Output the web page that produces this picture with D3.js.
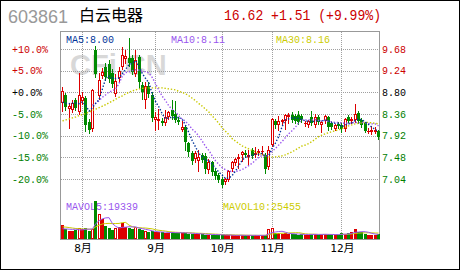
<!DOCTYPE html>
<meta charset="utf-8">
<style>
body { margin: 0; background: #fff; }
svg { display: block; }
.grid line { stroke: #a0a0a0; stroke-dasharray: 1,1; shape-rendering: crispEdges; }
.ma { fill: none; stroke-width: 1.4; stroke-dasharray: 1.4,1.8; }
.mavol { fill: none; stroke-width: 1; }
.mono { font-family: "Liberation Mono", "DejaVu Sans Mono", monospace; }
</style>
<svg width="460" height="270"></svg>
<script src="https://d3js.org/d3.v7.min.js"></script>
<script>

// header
var stockCode = "603861",
    stockName = "白云电器",
    quoteText = "16.62 +1.51 (+9.99%)";

// axis ticks
var basePrice  = 8.80;
var priceTicks = [9.68, 9.24, 8.80, 8.36, 7.92, 7.48, 7.04];
var pctLabels  = ["+10.0%", "+5.0%", "+0.0%", "-5.0%", "-10.0%", "-15.0%", "-20.0%"];
var monthLabels = ["8月", "9月", "10月", "11月", "12月"];
var monthStart  = [6, 28, 48, 63, 84];   // index of first trading day of each month

var maLabels    = ["MA5:8.00", "MA10:8.11", "MA30:8.16"];
var mavolLabels = ["MAVOL5:19339", "MAVOL10:25455"];

// daily k-line
var opens = [8.58,8.74,8.47,8.45,8.64,8.40,8.62,8.68,8.20,8.06, 9.66,8.72,9.14,9.32,9.38,9.20,8.76,9.10,9.32,9.48,
  9.50,9.50,9.18,9.52,8.94,8.64,8.92,8.74,8.24,8.22, 8.22,8.18,8.30,8.44,8.36,8.24,8.04,8.10,7.78,7.56,
  7.44,7.40,7.52,7.50,7.22,7.38,7.20,7.12,7.04,6.98, 7.02,7.24,7.36,7.44,7.52,7.56,7.48,7.62,7.52,7.56,
  7.58,7.52,7.28,7.74,8.22,8.14,8.20,8.22,8.30,8.34, 8.32,8.34,8.32,8.16,8.14,8.30,8.14,8.30,8.14,8.22,
  8.30,8.18,8.06,8.16,8.14,8.06,8.30,8.22,8.24,8.38, 8.24,8.18,8.00,8.00,8.00,8.02];
var highs = [8.90,8.78,8.56,8.64,8.68,9.19,8.80,8.72,8.26,8.86, 9.74,9.19,9.30,9.40,9.46,9.28,9.18,9.32,9.72,9.66,
  9.90,9.56,9.66,9.56,9.00,9.00,9.02,8.80,8.40,8.46, 8.28,8.44,8.42,8.64,8.62,8.30,8.22,8.14,7.80,7.60,
  7.60,7.62,7.56,7.56,7.44,7.40,7.24,7.16,7.08,7.06, 7.22,7.40,7.46,7.54,7.60,7.62,7.62,7.66,7.68,7.64,
  7.72,7.56,7.70,8.28,8.26,8.32,8.26,8.36,8.38,8.40, 8.36,8.42,8.36,8.22,8.24,8.42,8.36,8.34,8.22,8.34,
  8.32,8.22,8.16,8.20,8.18,8.28,8.34,8.30,8.56,8.42, 8.28,8.20,8.08,8.12,8.10,8.04];
var lows = [8.42,8.44,8.08,8.40,8.44,8.36,8.56,8.02,7.98,8.02, 9.12,8.66,9.10,9.06,9.02,8.90,8.72,9.04,9.28,9.40,
  9.34,9.18,9.14,8.88,8.66,8.48,8.70,8.22,8.04,8.06, 8.14,8.14,8.26,8.26,8.20,8.16,8.02,7.62,7.50,7.34,
  7.38,7.20,7.38,7.16,7.16,7.12,7.04,6.98,6.88,6.94, 7.00,7.20,7.32,7.26,7.40,7.48,7.32,7.46,7.48,7.52,
  7.54,7.16,7.24,7.70,8.08,8.04,8.14,8.06,8.18,8.20, 8.18,8.16,8.20,8.12,8.10,8.14,8.10,8.16,8.00,8.18,
  8.04,8.06,8.04,8.08,8.00,8.02,8.20,8.18,8.20,8.18, 8.10,8.00,7.98,7.96,7.98,7.86];
var closes = [8.82,8.50,8.53,8.58,8.49,8.75,8.70,8.14,8.04,8.84, 9.18,9.06,9.22,9.12,9.08,8.96,9.04,9.24,9.56,9.54,
  9.40,9.22,9.46,9.02,8.80,8.92,8.76,8.28,8.30,8.26, 8.18,8.30,8.40,8.32,8.24,8.20,8.10,7.80,7.58,7.40,
  7.56,7.48,7.42,7.24,7.38,7.18,7.10,7.02,6.92,7.04, 7.20,7.38,7.44,7.48,7.58,7.52,7.52,7.50,7.56,7.60,
  7.60,7.24,7.62,8.26,8.14,8.22,8.24,8.34,8.34,8.24, 8.22,8.20,8.24,8.18,8.22,8.18,8.30,8.20,8.20,8.32,
  8.10,8.10,8.14,8.12,8.06,8.26,8.22,8.26,8.36,8.22, 8.14,8.02,8.02,8.04,8.04,7.90];

var ma5 = [8.60,8.58,8.57,8.58,8.58,8.57,8.61,8.53,8.42,8.49, 8.58,8.65,8.87,9.08,9.13,9.09,9.08,9.09,9.18,9.27,
  9.36,9.39,9.44,9.33,9.18,9.08,8.99,8.76,8.61,8.50, 8.36,8.26,8.29,8.29,8.29,8.29,8.25,8.13,7.98,7.82,
  7.69,7.56,7.49,7.42,7.42,7.34,7.26,7.18,7.12,7.05, 7.06,7.11,7.20,7.31,7.42,7.48,7.51,7.52,7.54,7.54,
  7.56,7.50,7.52,7.66,7.77,7.90,8.10,8.24,8.26,8.28, 8.28,8.27,8.25,8.22,8.21,8.20,8.22,8.22,8.22,8.24,
  8.22,8.18,8.17,8.16,8.10,8.14,8.16,8.18,8.23,8.26, 8.24,8.20,8.15,8.09,8.05,8.00];
var ma10 = [null,null,null,null,null,null,null,null,null,8.54, 8.58,8.63,8.70,8.75,8.81,8.83,8.87,8.98,9.13,9.20,
  9.22,9.24,9.26,9.25,9.22,9.22,9.19,9.10,8.97,8.84, 8.72,8.63,8.52,8.45,8.40,8.32,8.26,8.21,8.14,8.05,
  7.99,7.91,7.81,7.70,7.62,7.51,7.41,7.34,7.27,7.23, 7.20,7.19,7.19,7.21,7.23,7.27,7.31,7.36,7.42,7.48,
  7.52,7.50,7.52,7.60,7.66,7.73,7.80,7.88,7.96,8.02, 8.09,8.18,8.24,8.24,8.24,8.24,8.25,8.23,8.22,8.23,
  8.21,8.20,8.19,8.19,8.17,8.18,8.17,8.18,8.19,8.18, 8.19,8.18,8.17,8.16,8.16,8.12];
var ma30 = [8.22,8.24,8.26,8.28,8.30,8.33,8.35,8.37,8.40,8.43, 8.46,8.49,8.52,8.55,8.59,8.62,8.66,8.70,8.73,8.77,
  8.80,8.83,8.85,8.87,8.88,8.89,8.89,8.89,8.89,8.89, 8.89,8.88,8.87,8.86,8.85,8.82,8.80,8.77,8.73,8.68,
  8.63,8.57,8.52,8.46,8.40,8.32,8.25,8.17,8.08,8.01, 7.94,7.86,7.81,7.76,7.71,7.68,7.65,7.62,7.59,7.56,
  7.53,7.51,7.49,7.49,7.49,7.50,7.51,7.53,7.56,7.59, 7.63,7.67,7.71,7.73,7.76,7.80,7.85,7.90,7.93,7.96,
  7.98,8.00,8.02,8.04,8.06,8.09,8.12,8.14,8.16,8.17, 8.18,8.19,8.19,8.18,8.17,8.16];

var volumes = [61000,43000,33000,33000,40000,47000,43000,47000,33000,43000,
  163000,107000,86000,54000,47000,37000,47000,50000,69000,50000,
  47000,43000,51000,43000,37000,33000,29000,33000,29000,29000,
  29000,26000,26000,29000,26000,26000,26000,26000,23000,23000,
  21000,21000,21000,18500,18500,18500,18500,18500,16000,15000,
  17000,16000,15000,16000,17000,15000,16000,15000,16000,15000,
  16000,17000,44000,46000,27000,26000,23000,24000,21000,20000,
  21000,19000,20000,18000,19000,22000,20000,18000,19000,21000,
  20000,18000,17000,19000,26000,23000,24000,30000,40850,32000,
  31000,22000,18000,17000,18000,21700];
var mavol5 = [44000,43000,42000,41000,42000,39200,39200,42000,42000,42600,
  65800,78600,86400,90600,91400,66200,54200,47000,50000,50600,
  52600,51800,52000,46800,44200,41400,38600,35000,32200,30600,
  29800,29200,27800,27800,27200,26600,26600,26600,25400,24800,
  23800,22800,21800,20900,20000,19500,19000,18500,18000,17300,
  17000,16500,15800,15800,16200,15800,15800,15800,15800,15400,
  15600,15800,21600,27600,30000,32000,33200,29200,24200,22800,
  21800,21000,20200,19600,19400,19600,19800,19400,19600,20000,
  19600,19200,19000,19000,20000,20600,21800,24400,28770,29970,
  31570,31170,28770,24000,21200,19339];
var mavol10 = [52000,51000,49000,47000,45000,44000,43000,43000,42000,42300,
  52500,58900,64200,66300,67000,66000,66400,66700,70300,71000,
  59400,53000,49500,48400,47400,47000,45200,43500,39500,37400,
  35600,33900,31400,30000,28900,28200,27900,27200,26600,26000,
  25200,24700,24200,23150,22400,21650,20900,20150,19450,18650,
  18250,17750,17150,16900,16750,16400,16150,15800,15800,15800,
  15700,15800,18700,21700,22700,23800,24500,25400,25900,26400,
  26900,27100,24700,21900,21100,20700,20400,19800,19600,19700,
  19600,19500,19200,19300,20000,20100,20500,21700,23890,24990,
  26090,26490,26590,26390,25590,25455];

var RED = "#dd0000", GREEN = "#008a00", TXT_RED = "#cc0000", TXT_GREEN = "#008000";

var svg = d3.select("svg");

var x = d3.scaleLinear().domain([0, closes.length - 1]).range([62.5, 378.5]);
var y = d3.scaleLinear().domain([7.04, 9.68]).range([179, 49]);
var yv = d3.scaleLinear().domain([0, 180000]).range([239, 197]);

function col(i) { return Math.floor(x(i)); }
function tickColor(p) { return p > basePrice ? TXT_RED : (p < basePrice ? TXT_GREEN : "#000"); }

// outer border
svg.append("rect")
    .attr("x", 0.5).attr("y", 0.5).attr("width", 459).attr("height", 269)
    .attr("fill", "#fff").attr("stroke", "#000");

// header
svg.append("text")
    .attr("x", 8).attr("y", 23)
    .attr("font-family", "Liberation Sans, Arial, sans-serif")
    .attr("font-size", 18).attr("fill", "#999")
    .text(stockCode);
svg.append("text")
    .attr("x", 79).attr("y", 21)
    .attr("font-family", "Noto Sans CJK SC, sans-serif")
    .attr("font-size", 16).attr("fill", "#000")
    .text(stockName);
svg.append("text")
    .attr("class", "mono")
    .attr("x", 224).attr("y", 20)
    .attr("font-size", 15).attr("fill", TXT_RED)
    .attr("textLength", 157).attr("lengthAdjust", "spacingAndGlyphs")
    .text(quoteText);

// watermark
svg.append("text")
    .attr("x", 70).attr("y", 75)
    .attr("font-family", "Liberation Sans, Arial, sans-serif")
    .attr("font-weight", "bold").attr("font-size", 29)
    .attr("fill", "#d8d8d8")
    .text("CFi.CN");

// grid
var grid = svg.append("g").attr("class", "grid");
grid.selectAll("line.h")
  .data(priceTicks)
  .enter().append("line")
    .attr("class", "h")
    .attr("x1", 61).attr("x2", 380)
    .attr("y1", function(d) { return Math.round(y(d)) + 0.5; })
    .attr("y2", function(d) { return Math.round(y(d)) + 0.5; });
grid.selectAll("line.v")
  .data(monthStart)
  .enter().append("line")
    .attr("class", "v")
    .attr("x1", function(d) { return col(d) + 0.5; })
    .attr("x2", function(d) { return col(d) + 0.5; })
    .attr("y1", 32).attr("y2", 239);

// frame
svg.append("rect")
    .attr("x", 60.5).attr("y", 31.5).attr("width", 319).attr("height", 208)
    .attr("fill", "none").attr("stroke", "#999");

// axes
var axL = svg.append("g")
    .attr("transform", "translate(12,0)")
    .call(d3.axisRight(y).tickValues(priceTicks).tickSize(0).tickPadding(0)
      .tickFormat(function(d, i) { return pctLabels[i]; }));
var axR = svg.append("g")
    .attr("transform", "translate(382,0)")
    .call(d3.axisRight(y).tickValues(priceTicks).tickSize(0).tickPadding(0)
      .tickFormat(d3.format(".2f")));
[axL, axR].forEach(function(g) {
  g.select(".domain").remove();
  g.attr("font-family", "Liberation Mono, DejaVu Sans Mono, monospace").attr("font-size", 10);
  g.selectAll("text").attr("fill", function(d) { return tickColor(d); });
});

var axB = svg.append("g")
    .attr("transform", "translate(0,243)")
    .call(d3.axisBottom(x).tickValues(monthStart).tickSize(0).tickPadding(1)
      .tickFormat(function(d, i) { return monthLabels[i]; }));
axB.select(".domain").remove();
axB.attr("font-family", "DejaVu Sans Mono, Noto Sans CJK SC, monospace").attr("font-size", 11);
axB.selectAll("text").attr("fill", "#000");

// indicator labels
var maColors = ["#003399", "#9955ee", "#cccc00"];
svg.selectAll("text.malabel")
  .data(maLabels)
  .enter().append("text")
    .attr("class", "malabel mono")
    .attr("x", function(d, i) { return [66, 171, 276][i]; })
    .attr("y", 42.5)
    .attr("font-size", 10)
    .attr("fill", function(d, i) { return maColors[i]; })
    .text(function(d) { return d; });
svg.selectAll("text.mavollabel")
  .data(mavolLabels)
  .enter().append("text")
    .attr("class", "mavollabel mono")
    .attr("x", function(d, i) { return [66, 223][i]; })
    .attr("y", 209.5)
    .attr("font-size", 10)
    .attr("fill", function(d, i) { return maColors[i + 1]; })
    .text(function(d) { return d; });

// candles
var idx = d3.range(closes.length);
var candles = svg.append("g").attr("shape-rendering", "crispEdges");
idx.forEach(function(i) {
  var o = opens[i], c = closes[i], up = c >= o;
  var color = up ? RED : GREEN;
  var cx = col(i);
  var top = Math.round(y(Math.max(o, c))), bot = Math.round(y(Math.min(o, c)));
  candles.append("line")
      .attr("x1", cx + 0.5).attr("x2", cx + 0.5)
      .attr("y1", Math.round(y(highs[i]))).attr("y2", Math.round(y(lows[i])) + 1)
      .attr("stroke", color);
  if (up && bot - top >= 3) {
    candles.append("rect")
        .attr("x", cx - 0.5).attr("y", top + 0.5)
        .attr("width", 2).attr("height", bot - top - 1)
        .attr("fill", "#fff").attr("stroke", color);
  } else {
    candles.append("rect")
        .attr("x", cx - 1).attr("y", top)
        .attr("width", 3).attr("height", Math.max(1, bot - top))
        .attr("fill", color);
  }
});

// volume bars
var vol = svg.append("g").attr("shape-rendering", "crispEdges");
idx.forEach(function(i) {
  var o = opens[i], c = closes[i], up = c >= o;
  var color = up ? RED : GREEN;
  var cx = col(i), top = Math.round(yv(volumes[i]));
  if (up && (c - o) / o > 0.03 && 239 - top >= 3) {
    vol.append("rect")
        .attr("x", cx - 0.5).attr("y", top + 0.5)
        .attr("width", 2).attr("height", 239 - top - 1)
        .attr("fill", "#fff").attr("stroke", color);
  } else {
    vol.append("rect")
        .attr("x", cx - 1).attr("y", top)
        .attr("width", 3).attr("height", 239 - top)
        .attr("fill", color);
  }
});

// moving averages
function maLine(arr, scale) {
  return d3.line()
      .defined(function(i) { return arr[i] != null; })
      .x(function(i) { return x(i); })
      .y(function(i) { return scale(arr[i]); });
}
[[ma30, "#c8c800"], [ma10, "#9955ee"], [ma5, "#003399"]].forEach(function(m) {
  svg.append("path")
      .datum(idx)
      .attr("class", "ma")
      .attr("stroke", m[1])
      .attr("d", maLine(m[0], y));
});
[[mavol10, "#cccc00"], [mavol5, "#9955ee"]].forEach(function(m) {
  svg.append("path")
      .datum(idx)
      .attr("class", "mavol")
      .attr("stroke", m[1])
      .attr("d", maLine(m[0], yv));
});

</script>
